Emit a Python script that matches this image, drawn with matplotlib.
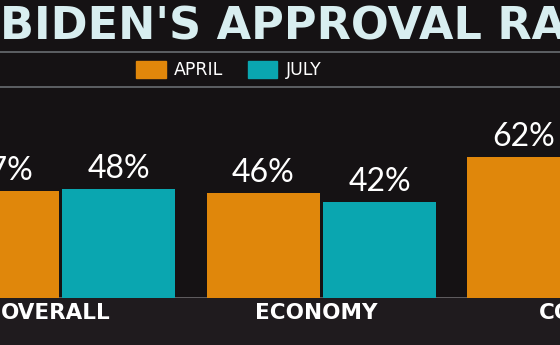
import matplotlib.pyplot as plt
import numpy as np
from matplotlib.patches import Patch

# Data read from the TV graphic
categories = ["OVERALL", "ECONOMY", "COVID"]
april = [47, 46, 62]
july = [48, 42, np.nan]  # third July bar is off screen

orange = "#e0870b"
teal = "#0aa6b0"
bg = "#151214"

fig = plt.figure(figsize=(5.6, 3.45), dpi=100)
fig.patch.set_facecolor(bg)

# slightly lighter stage floor under the bars
fig.patches.append(plt.Rectangle((0, 0), 1, 47 / 345, transform=fig.transFigure,
                                 color="#1f1b1e", zorder=-1))

ax = fig.add_axes([0, 47 / 345, 1, 228 / 345])
ax.set_facecolor("none")
ax.set_xlim(-0.232, 1.914)
ax.set_ylim(0, 100)
ax.axis("off")

x = np.arange(len(categories))
width = 0.433
off = 0.224

ax.bar(x - off, april, width, color=orange, zorder=2)
ax.bar(x + off, july, width, color=teal, zorder=2)
ax.axhline(0, color="#6d6a6d", lw=1.2, zorder=1)

for xi, a, j, cat in zip(x, april, july, categories):
    ax.text(xi - off, a + 4.8, f"{a}%", ha="center", va="baseline",
            color="white", fontsize=23, family="Lato")
    if not np.isnan(j):
        ax.text(xi + off, j + 4.8, f"{j:.0f}%", ha="center", va="baseline",
                color="white", fontsize=23, family="Lato")
    ax.text(xi - 0.02, -6.4, cat, ha="center", va="center", color="white",
            fontsize=15.5, fontweight="bold", clip_on=False)

# title, cut off on both sides like the broadcast frame
fig.text(0.0, 1 - 27 / 345, "BIDEN'S APPROVAL RATING", ha="left", va="center",
         color="#d8eef0", fontsize=32, fontweight="bold")

# thin rules around the legend strip
for yy in (52, 87):
    fig.add_artist(plt.Line2D([0, 1], [1 - yy / 345] * 2, color="#7e8388",
                              lw=1.2, alpha=0.8))

handles = [Patch(color=orange), Patch(color=teal)]
fig.legend(handles, ["APRIL", "JULY"], loc="center",
           bbox_to_anchor=(229 / 560, 1 - 70 / 345), ncol=2, frameon=False,
           fontsize=12.5, labelcolor="white", handlelength=1.7, handleheight=1.2,
           handletextpad=0.5, columnspacing=1.4)

fig.savefig("out.png", dpi=100, facecolor=bg)
